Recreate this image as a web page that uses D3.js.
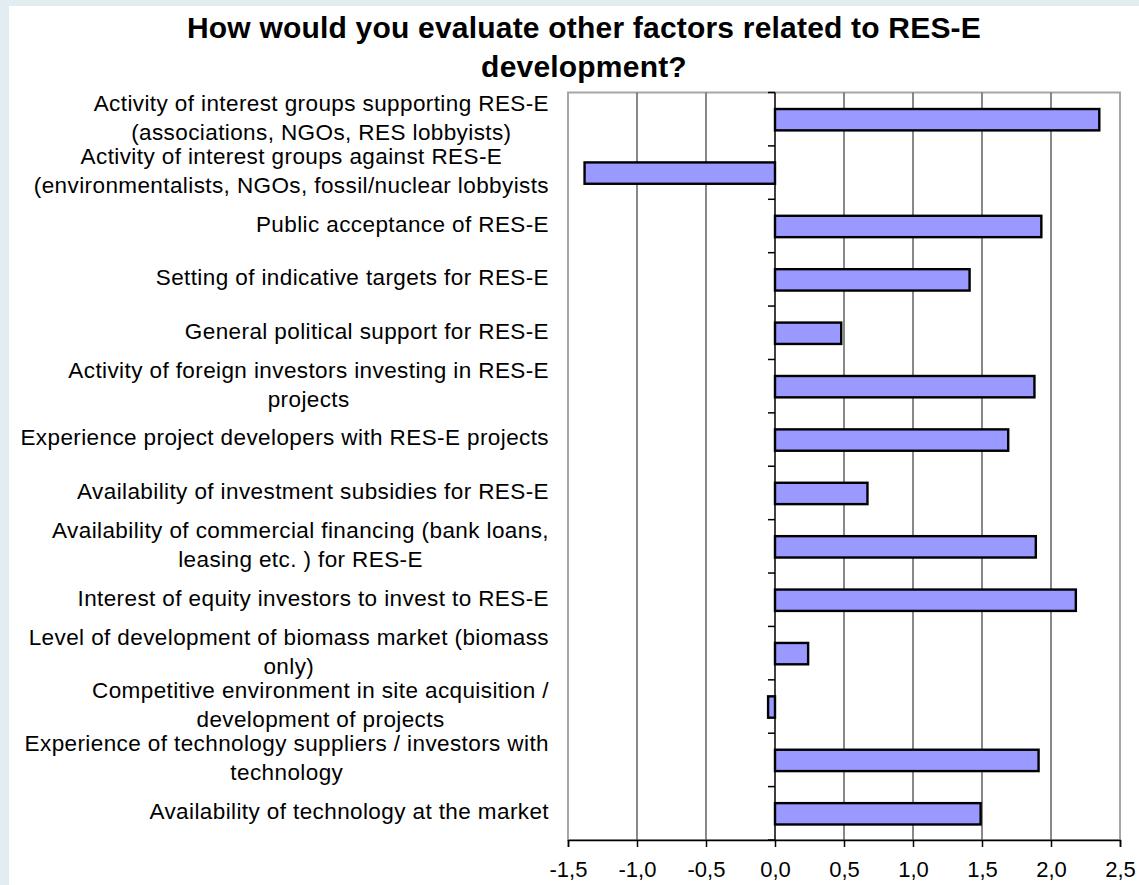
<!DOCTYPE html>
<html>
<head>
<meta charset="utf-8">
<script src="https://cdn.jsdelivr.net/npm/d3@7"></script>
<style>
  html, body { margin: 0; padding: 0; background: #ffffff; }
  svg { display: block; font-family: "Liberation Sans", Arial, sans-serif; }
</style>
</head>
<body>
<svg id="chart" width="1139" height="885"></svg>
<script>
// ---------- data ----------
const titleLines = ["How would you evaluate other factors related to RES-E", "development?"];
const categories = [
  "Activity of interest groups supporting RES-E",
  "Activity of interest groups against RES-E",
  "Public acceptance of RES-E",
  "Setting of indicative targets for RES-E",
  "General political support for RES-E",
  "Activity of foreign investors investing in RES-E projects",
  "Experience project developers with RES-E projects",
  "Availability of investment subsidies for RES-E",
  "Availability of commercial financing",
  "Interest of equity investors to invest to RES-E",
  "Level of development of biomass market",
  "Competitive environment in site acquisition",
  "Experience of technology suppliers / investors",
  "Availability of technology at the market"
];
const labelLines = [
  ["Activity of interest groups supporting  RES-E", "(associations, NGOs, RES lobbyists)"],
  ["Activity of interest groups against RES-E", "(environmentalists, NGOs, fossil/nuclear lobbyists"],
  ["Public acceptance of RES-E"],
  ["Setting of indicative targets for RES-E"],
  ["General political support for RES-E"],
  ["Activity of foreign investors investing in RES-E", "projects"],
  ["Experience project developers with RES-E projects"],
  ["Availability of investment subsidies for RES-E"],
  ["Availability of commercial financing (bank loans,", "leasing etc. ) for RES-E"],
  ["Interest of equity investors to invest to RES-E"],
  ["Level of development of biomass market (biomass", "only)"],
  ["Competitive environment in site acquisition /", "development of projects"],
  ["Experience of technology suppliers / investors with", "technology"],
  ["Availability of technology at the market"]
];
const values = [2.35, -1.38, 1.93, 1.41, 0.48, 1.88, 1.69, 0.67, 1.89, 2.18, 0.24, -0.05, 1.91, 1.49];
const xTicks = [-1.5, -1.0, -0.5, 0.0, 0.5, 1.0, 1.5, 2.0, 2.5];

// ---------- layout ----------
const W = 1139, H = 885;
const plot = { left: 568, right: 1120, top: 92.5, bottom: 840 };
const svg = d3.select("#chart");

// background frame
svg.append("rect").attr("x", 0).attr("y", 0).attr("width", W).attr("height", H).attr("fill", "#e1edf1");
svg.append("rect").attr("x", 9).attr("y", 6).attr("width", W - 9).attr("height", H - 6).attr("fill", "#ffffff");

const x = d3.scaleLinear().domain([xTicks[0], xTicks[xTicks.length - 1]]).range([plot.left, plot.right]);
const y = d3.scaleBand().domain(categories).range([plot.top, plot.bottom]).paddingInner(0.6).paddingOuter(0.3);
const step = y.step();
const x0 = x(0);

const fmt = d3.formatLocale({ decimal: ",", thousands: ".", grouping: [3], currency: ["", ""], minus: "-" }).format(".1f");

// plot border (gray)
svg.append("rect")
  .attr("x", plot.left).attr("y", plot.top)
  .attr("width", plot.right - plot.left).attr("height", plot.bottom - plot.top)
  .attr("fill", "none").attr("stroke", "#a6a6a6").attr("stroke-width", 2);

// vertical gridlines
svg.append("g").selectAll("line")
  .data(xTicks.filter(t => t !== 0 && t !== xTicks[0] && t !== xTicks[xTicks.length - 1]))
  .join("line")
  .attr("x1", d => x(d)).attr("x2", d => x(d))
  .attr("y1", plot.top).attr("y2", plot.bottom)
  .attr("stroke", "#6b6b6b").attr("stroke-width", 1.6);

// bars
svg.append("g").selectAll("rect")
  .data(categories.map((c, i) => ({ c, v: values[i] })))
  .join("rect")
  .attr("x", d => x(Math.min(0, d.v)))
  .attr("y", d => y(d.c) + 0.5)
  .attr("width", d => Math.abs(x(d.v) - x0))
  .attr("height", y.bandwidth())
  .attr("fill", "#9999ff")
  .attr("stroke", "#000000")
  .attr("stroke-width", 2.4);

// category axis at zero (with ticks at band boundaries, pointing left)
const boundaries = d3.range(categories.length + 1).map(k => plot.top + k * step);
const catAxis = svg.append("g");
catAxis.append("line").attr("x1", x0).attr("x2", x0).attr("y1", plot.top).attr("y2", plot.bottom)
  .attr("stroke", "#000").attr("stroke-width", 1.5);
catAxis.selectAll("line.tk").data(boundaries).join("line").attr("class", "tk")
  .attr("x1", x0 - 7).attr("x2", x0).attr("y1", d => d).attr("y2", d => d)
  .attr("stroke", "#000").attr("stroke-width", 1.5);

// value axis (bottom)
const xAxis = d3.axisBottom(x).tickValues(xTicks).tickFormat(fmt).tickSize(7).tickPadding(14);
const gx = svg.append("g").attr("transform", `translate(0,${plot.bottom})`).call(xAxis);
gx.select(".domain").attr("stroke", "#000").attr("stroke-width", 1.5);
gx.selectAll(".tick line").attr("stroke", "#000").attr("stroke-width", 1.5);
gx.selectAll(".tick text").attr("font-size", 22).attr("fill", "#000")
  .attr("font-family", "'Liberation Sans', Arial, sans-serif");

// category labels (right aligned block, lines centered within block)
const labelRight = 549;
const lineH = 29;
const lblG = svg.append("g").attr("font-size", 22.5).attr("fill", "#000").attr("letter-spacing", "0.4px");
labelLines.forEach((lines, i) => {
  const cy = y(categories[i]) + y.bandwidth() / 2 - 2;
  const texts = lines.map((s, j) => lblG.append("text")
    .attr("y", cy + (j - (lines.length - 1) / 2) * lineH)
    .attr("dy", "0.35em")
    .text(s));
  const widths = texts.map(t => t.node().getComputedTextLength());
  const bw = d3.max(widths);
  const cx = labelRight - bw / 2;
  texts.forEach(t => t.attr("x", cx).attr("text-anchor", "middle"));
});

// title
svg.append("g").selectAll("text").data(titleLines).join("text")
  .attr("x", 584).attr("y", (d, i) => 38 + i * 39)
  .attr("text-anchor", "middle")
  .attr("font-size", 30).attr("font-weight", "bold").attr("fill", "#000")
  .attr("letter-spacing", "0.2px")
  .text(d => d);
</script>
</body>
</html>
